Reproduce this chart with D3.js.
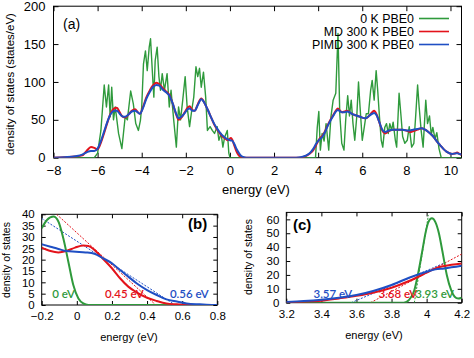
<!DOCTYPE html>
<html><head><meta charset="utf-8">
<script src="https://cdn.jsdelivr.net/npm/d3@7"></script>
<style>
html,body{margin:0;padding:0;background:#fff;}
svg{display:block;}
text{font-family:"Liberation Sans",Arial,sans-serif;}
</style></head><body>
<svg id="c" width="474" height="358"></svg>
<script>
// ---------------- data ----------------
const seriesNames = ["0 K PBE0", "MD 300 K PBE0", "PIMD 300 K PBE0"];
const colors = {g:"#2f9a3c", r:"#e3131b", b:"#1f4fc4"};

const topXTicks = [-8,-6,-4,-2,0,2,4,6,8,10];
const topYTicks = [0,50,100,150,200];
const bXTicks = [-0.2,0,0.2,0.4,0.6,0.8];
const bYTicks = [0,5,10,15,20,25,30,35,40];
const cXTicks = [3.2,3.4,3.6,3.8,4,4.2];
const cYTicks = [0,10,20,30,40,50,60];

// panel (a): 0 K PBE0
const dos0K = [[-8,0],[-6.15,0],[-6.0,6],[-5.85,36],[-5.7,96],[-5.6,67],[-5.5,96],[-5.43,54],[-5.36,93],[-5.28,50],[-5.2,67],[-5.05,32],[-4.9,12],[-4.75,54],[-4.65,50],[-4.5,88],[-4.38,71],[-4.27,45],[-4.15,36],[-4.06,49],[-4.0,67],[-3.92,124],[-3.83,141],[-3.75,115],[-3.66,146],[-3.6,157],[-3.52,115],[-3.45,80],[-3.39,128],[-3.3,146],[-3.22,107],[-3.15,89],[-3.07,111],[-2.97,89],[-2.85,111],[-2.75,67],[-2.67,89],[-2.55,50],[-2.43,14],[-2.33,67],[-2.24,50],[-2.14,76],[-2.03,107],[-1.94,67],[-1.83,41],[-1.73,63],[-1.64,80],[-1.54,120],[-1.46,107],[-1.38,118],[-1.3,93],[-1.2,113],[-1.1,80],[-1.02,36],[-0.9,41],[-0.8,36],[-0.7,32],[-0.58,41],[-0.5,23],[-0.4,32],[-0.32,14],[-0.24,27],[-0.12,36],[-0.05,6],[0.0,0],
 [3.88,0],[3.96,40],[4.03,61],[4.1,10],[4.18,32],[4.27,22],[4.36,45],[4.48,10],[4.58,54],[4.68,76],[4.8,85],[4.9,164],[4.98,58],[5.07,19],[5.17,10],[5.25,50],[5.34,82],[5.42,55],[5.5,76],[5.58,45],[5.66,23],[5.75,54],[5.83,100],[5.9,67],[6.0,23],[6.09,40],[6.18,58],[6.28,58],[6.38,89],[6.45,102],[6.54,76],[6.63,115],[6.7,89],[6.78,54],[6.86,23],[6.93,14],[7.02,40],[7.1,45],[7.18,32],[7.25,45],[7.33,36],[7.4,47],[7.5,23],[7.56,14],[7.67,85],[7.76,54],[7.83,28],[7.93,19],[8.04,23],[8.13,41],[8.24,14],[8.34,19],[8.42,54],[8.51,96],[8.58,67],[8.67,36],[8.76,14],[8.88,76],[8.96,45],[9.05,55],[9.13,30],[9.2,40],[9.3,25],[9.38,33],[9.48,12],[9.58,0],[10.5,0]];

// panel (a): MD 300 K PBE0
const dosMD = [[-8,0],[-7.5,0.5],[-7,1.5],[-6.7,3],[-6.5,9],[-6.3,14],[-6.15,13],[-6.0,11],[-5.85,20],[-5.7,33],[-5.55,47],[-5.4,59],[-5.25,65],[-5.13,66],[-5.0,60],[-4.9,55],[-4.76,53],[-4.6,57],[-4.45,62],[-4.3,64],[-4.18,60],[-4.08,58],[-3.95,66],[-3.8,79],[-3.63,89],[-3.5,95],[-3.33,99],[-3.2,97],[-3.05,92],[-2.88,87],[-2.75,83],[-2.6,72],[-2.45,58],[-2.33,50],[-2.2,53],[-2.05,60],[-1.92,66],[-1.83,68],[-1.7,63],[-1.6,62],[-1.45,71],[-1.3,78],[-1.15,72],[-1.0,63],[-0.85,53],[-0.7,43],[-0.55,36],[-0.4,30],[-0.2,25],[-0.1,23],[0.05,26],[0.1,24],[0.2,16],[0.3,8],[0.4,3],[0.5,1],[0.65,0],[3.0,0],
 [3.3,0.7],[3.5,3],[3.7,7.4],[3.8,11],[3.9,16],[4.0,22],[4.1,26.5],[4.2,29],[4.33,36],[4.45,44],[4.56,50],[4.7,57],[4.78,61],[4.89,65],[5.0,62],[5.08,60],[5.2,61],[5.31,62],[5.42,60],[5.53,58],[5.7,56],[5.9,54],[6.14,52],[6.3,55],[6.45,60],[6.54,62],[6.65,57],[6.75,49],[6.89,37],[7.04,32],[7.2,35],[7.4,37],[7.56,37],[7.8,37],[8.0,36],[8.17,34],[8.3,35],[8.5,37],[8.69,39],[8.85,37],[9.0,34],[9.22,28],[9.4,21],[9.52,17],[9.7,11],[9.82,8],[10.05,5],[10.2,5.5],[10.3,7],[10.4,5],[10.5,4]];

// panel (a): PIMD 300 K PBE0
const dosPIMD = [[-8,0],[-7.5,0.7],[-7,2],[-6.7,4],[-6.5,7],[-6.3,9],[-6.15,9],[-6.0,12],[-5.85,22],[-5.7,35],[-5.55,48],[-5.4,58],[-5.25,62],[-5.13,62],[-5.0,58],[-4.9,55],[-4.76,54],[-4.6,57],[-4.45,61],[-4.3,62],[-4.18,60],[-4.08,58],[-3.95,65],[-3.8,77],[-3.63,87],[-3.5,93],[-3.33,96],[-3.2,95],[-3.05,90],[-2.88,86],[-2.75,82],[-2.6,72],[-2.45,59],[-2.33,52],[-2.2,54],[-2.05,59],[-1.92,64],[-1.83,65],[-1.7,62],[-1.6,62],[-1.45,70],[-1.3,77],[-1.15,72],[-1.0,63],[-0.85,53],[-0.7,44],[-0.55,37],[-0.4,31],[-0.2,26],[0,23],[0.1,22.5],[0.2,18],[0.3,11.5],[0.4,6.5],[0.5,2.7],[0.6,1],[0.75,0],[3.0,0],
 [3.2,0.5],[3.4,2.2],[3.6,5.5],[3.7,8.6],[3.8,12.7],[3.9,18],[4.0,22.3],[4.1,25],[4.2,28],[4.33,35],[4.45,43],[4.56,49],[4.7,56],[4.78,60],[4.89,63],[5.0,61],[5.08,60],[5.2,60],[5.31,61],[5.42,60],[5.53,58],[5.7,56],[5.9,54],[6.14,52],[6.3,55],[6.45,58],[6.54,59],[6.65,56],[6.75,49],[6.89,38],[7.04,34],[7.2,36],[7.4,37],[7.56,37],[7.8,37],[8.0,36],[8.17,36],[8.3,37],[8.5,38],[8.69,39],[8.85,37],[9.0,34],[9.22,28],[9.4,21],[9.52,17],[9.7,11],[9.82,8],[10.05,5],[10.2,5.5],[10.3,6],[10.4,5],[10.5,4]];

// panel (b): valence band edge
const bGreen = [[-0.2,33.8],[-0.17,37.5],[-0.133,39],[-0.105,36.8],[-0.077,29.4],[-0.048,19],[-0.02,8.8],[0.009,2.9],[0.037,0.7],[0.066,0],[0.8,0]];
const bRed = [[-0.2,25.3],[-0.15,23.8],[-0.105,23.2],[-0.06,23.8],[-0.01,25.3],[0.037,26.2],[0.066,26],[0.1,24.3],[0.15,20.3],[0.2,16.2],[0.246,11.8],[0.293,8.1],[0.34,5.6],[0.4,3.2],[0.455,1.8],[0.51,0.7],[0.57,0.3],[0.63,0],[0.8,0]];
const bBlue = [[-0.2,26.8],[-0.15,25.7],[-0.105,24.7],[-0.06,23.8],[-0.005,23.5],[0.05,23.2],[0.1,22.6],[0.15,20.6],[0.2,18.4],[0.246,15.4],[0.293,12.5],[0.34,9.6],[0.4,6.6],[0.455,4.4],[0.51,2.5],[0.57,1.5],[0.625,0.7],[0.7,0.3],[0.78,0],[0.8,0]];
const bTangentRed = [[-0.115,40],[0.45,0]];
const bTangentBlue = [[-0.2,38.2],[0.56,0]];
const bLabels = [["0 eV",-0.14,"g"],["0.45 eV",0.16,"r"],["0.56 eV",0.53,"b"]];

// panel (c): conduction band edge
const cGreen = [[3.2,0],[3.87,0],[3.9,2],[3.93,9],[3.95,20],[3.975,37],[3.995,51],[4.01,58],[4.03,60.7],[4.05,58],[4.07,50],[4.09,37],[4.115,20],[4.14,9],[4.16,4.3],[4.18,3],[4.2,3.6]];
const cRed = [[3.2,0.2],[3.3,0.7],[3.4,1.4],[3.5,3.1],[3.6,5],[3.7,7.4],[3.8,10.8],[3.9,15.6],[4.0,21.6],[4.05,24.7],[4.1,26.4],[4.2,28.3]];
const cBlue = [[3.2,0.5],[3.3,1.2],[3.4,2.2],[3.5,3.6],[3.6,5.5],[3.7,8.6],[3.8,12.7],[3.9,18],[4.0,22.3],[4.05,24],[4.1,24.7],[4.2,26.6]];
const cTangentBlue = [[3.57,0],[4.1,28.5]];
const cTangentRed = [[3.68,0],[4.2,35]];
const cTangentGreen = [[3.93,0],[4.01,63]];
const cLabels = [["3.57 eV",3.355,"b"],["3.68 eV",3.725,"r"],["3.93 eV",3.935,"g"]];

// ---------------- drawing ----------------
const svg = d3.select("#c");
svg.append("rect").attr("width",474).attr("height",358).attr("fill","#fff");
const fmt = d => String(d).replace("-","\u2212");

function panel(o){
  const x = d3.scaleLinear().domain(o.xd).range(o.xr);
  const y = d3.scaleLinear().domain(o.yd).range(o.yr);
  const g = svg.append("g");
  const id = "clip"+o.name;
  svg.append("clipPath").attr("id",id).append("rect")
    .attr("x",o.xr[0]).attr("y",o.yr[1]).attr("width",o.xr[1]-o.xr[0]).attr("height",o.yr[0]-o.yr[1]);
  const ax = (gen, tr, ticks, lab) => {
    const a = g.append("g").attr("transform",tr)
      .call(gen.tickValues(ticks).tickSizeInner(-o.tick).tickSizeOuter(0).tickPadding(o.pad)
        .tickFormat(lab ? fmt : ""));
    a.select(".domain").remove();
    a.selectAll("line").attr("stroke","#000").attr("stroke-width",1);
    a.selectAll("text").style("font-size",o.fs+"px").style("fill","#000");
    return a;
  };
  ax(d3.axisBottom(x), `translate(0,${o.yr[0]})`, o.xt, true);
  ax(d3.axisTop(x), `translate(0,${o.yr[1]})`, o.xt, false);
  ax(d3.axisLeft(y), `translate(${o.xr[0]},0)`, o.yt, true);
  ax(d3.axisRight(y), `translate(${o.xr[1]},0)`, o.yt, false);
  g.append("rect").attr("x",o.xr[0]).attr("y",o.yr[1]).attr("width",o.xr[1]-o.xr[0]).attr("height",o.yr[0]-o.yr[1])
    .attr("fill","none").attr("stroke","#000").attr("stroke-width",1);
  const plot = svg.append("g").attr("clip-path",`url(#${id})`);
  return {x,y,g,plot};
}
function curve(p, data, col, w, c, dash){
  const l = d3.line().x(d=>p.x(d[0])).y(d=>p.y(d[1])).curve(c||d3.curveMonotoneX);
  const path = p.plot.append("path").datum(data).attr("d",l).attr("fill","none")
    .attr("stroke",colors[col]).attr("stroke-width",w).attr("stroke-linejoin","round");
  if(dash) path.attr("stroke-dasharray",dash);
}
function txt(x,y,s,size,opts){
  const t = svg.append("text").attr("x",x).attr("y",y).style("font-size",size+"px").style("fill",(opts&&opts.fill)||"#000").text(s);
  if(opts&&opts.anchor) t.attr("text-anchor",opts.anchor);
  if(opts&&opts.weight) t.style("font-weight",opts.weight);
  if(opts&&opts.family) t.style("font-family",opts.family);
  if(opts&&opts.rot) t.attr("x",null).attr("y",null).attr("transform",`translate(${x},${y}) rotate(-90)`);
  return t;
}

// panel (a)
const pa = panel({name:"a", xd:[-8,10.5], xr:[53.5,461.5], yd:[0,200], yr:[157.7,6.2],
  xt:topXTicks, yt:topYTicks, tick:5, pad:8, fs:13});
curve(pa, dos0K, "g", 1.4, d3.curveLinear);
curve(pa, dosMD, "r", 2);
curve(pa, dosPIMD, "b", 2);
txt(63,29,"(a)",14);
txt(14,84,"density of states (states/eV)",11.5,{anchor:"middle",rot:true});
txt(256,194,"energy (eV)",13,{anchor:"middle"});
const legCols = ["g","r","b"];
seriesNames.forEach((s,i)=>{
  const yy = 18.5 + i*13;
  txt(414,yy+4.3,s,12.4,{anchor:"end"});
  svg.append("line").attr("x1",419).attr("x2",449).attr("y1",yy).attr("y2",yy)
    .attr("stroke",colors[legCols[i]]).attr("stroke-width",1.6);
});

// panel (b)
const pb = panel({name:"b", xd:[-0.2,0.8], xr:[41.7,217.3], yd:[0,40], yr:[305,214.3],
  xt:bXTicks, yt:bYTicks, tick:4, pad:7, fs:11.5});
curve(pb, bTangentRed, "r", 1, d3.curveLinear, "2,1.5");
curve(pb, bTangentBlue, "b", 1, d3.curveLinear, "2,1.5");
curve(pb, bGreen, "g", 2);
curve(pb, bRed, "r", 2);
curve(pb, bBlue, "b", 2);
bLabels.forEach(l=>txt(pb.x(l[1]),297.5,l[0],11.5,{family:"Lato, sans-serif",fill:colors[l[2]],weight:"600"}));
txt(188,229,"(b)",15,{weight:"bold"});
txt(10,260,"density of states",10.5,{anchor:"middle",rot:true});
txt(129,341,"energy (eV)",11,{anchor:"middle"});

// panel (c)
const pc = panel({name:"c", xd:[3.2,4.2], xr:[286.3,461.7], yd:[0,65], yr:[302.7,212.4],
  xt:cXTicks, yt:cYTicks, tick:4, pad:7, fs:11.5});
curve(pc, cTangentBlue, "b", 1, d3.curveLinear, "2,1.5");
curve(pc, cTangentRed, "r", 1, d3.curveLinear, "2,1.5");
curve(pc, cTangentGreen, "g", 1, d3.curveLinear, "2,1.5");
curve(pc, cGreen, "g", 2);
curve(pc, cRed, "r", 2);
curve(pc, cBlue, "b", 2);
cLabels.forEach(l=>txt(pc.x(l[1]),297.5,l[0],11.5,{family:"Lato, sans-serif",fill:colors[l[2]],weight:"600"}));
txt(293,230,"(c)",15,{weight:"bold"});
txt(252,257,"density of states",10.5,{anchor:"middle",rot:true});
txt(374,339,"energy (eV)",11,{anchor:"middle"});
</script>
</body></html>
